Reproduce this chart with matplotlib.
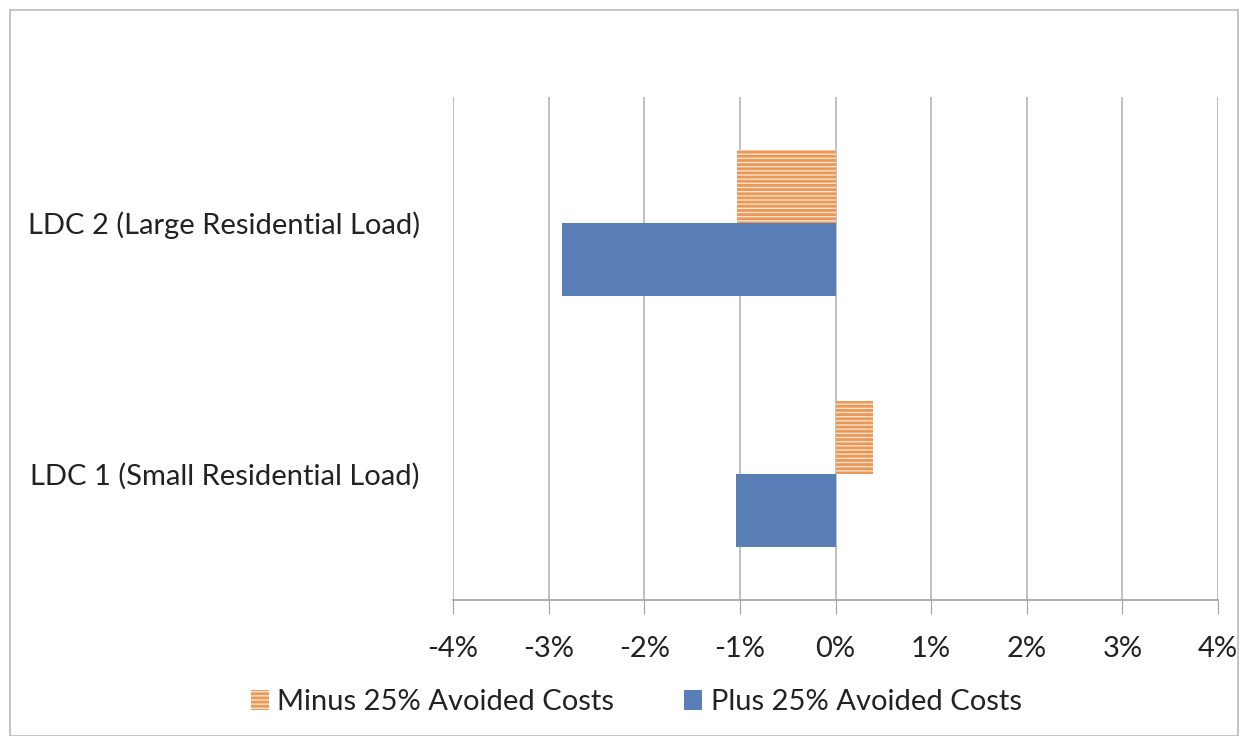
import matplotlib
matplotlib.use("Agg")
import matplotlib.pyplot as plt
from matplotlib.patches import Rectangle
import numpy as np

categories = ["LDC 1 (Small Residential Load)", "LDC 2 (Large Residential Load)"]
minus_25 = [0.39, -1.03]
plus_25 = [-1.04, -2.86]
xticks = [-4, -3, -2, -1, 0, 1, 2, 3, 4]
xtick_labels = ["-4%", "-3%", "-2%", "-1%", "0%", "1%", "2%", "3%", "4%"]
series_names = ["Minus 25% Avoided Costs", "Plus 25% Avoided Costs"]

plt.rcParams['font.family'] = ['Lato', 'DejaVu Sans']
plt.rcParams['hatch.linewidth'] = 2.0

fig = plt.figure(figsize=(12.43, 7.36), dpi=100)
ax = fig.add_axes([453/1243, 1 - 600/736, (1218-453)/1243, (600-97)/736])

y = np.arange(len(categories))
h = 0.29
orange = '#eb9757'
blue = '#5a7fb6'
ax.barh(y + h/2, minus_25, height=h, color='#fbe3cc', edgecolor=orange,
        hatch='----', linewidth=0, label=series_names[0])
ax.barh(y - h/2, plus_25, height=h, color=blue, linewidth=0, label=series_names[1])

fs = 21
ax.set_xlim(-4, 4)
ax.set_ylim(-0.5, 1.5)
ax.set_xticks(xticks)
ax.set_xticklabels(xtick_labels, fontsize=fs, color='#222222')
ax.set_yticks(y)
ax.set_yticklabels(categories, fontsize=fs, color='#222222')
ax.tick_params(axis='y', length=0, pad=24)
ax.tick_params(axis='x', length=10, color='#a0a0a0', pad=16, direction='out')
ax.grid(axis='x', color='#b5b5b5', linewidth=1.2)
ax.set_axisbelow(True)
for s in ['top', 'right', 'left']:
    ax.spines[s].set_visible(False)
ax.spines['bottom'].set_color('#a0a0a0')
ax.spines['bottom'].set_linewidth(1.2)

leg = fig.legend(loc='center', bbox_to_anchor=(0.512, 1 - 702/736), ncol=2, frameon=False,
                 fontsize=fs, handlelength=0.6, handleheight=0.7, columnspacing=2.4,
                 handletextpad=0.3)
for t in leg.get_texts():
    t.set_color('#222222')

fig.patches.append(Rectangle((10/1243, 0), (1238-10)/1243, 1 - 10/736, transform=fig.transFigure,
                             fill=False, edgecolor='#bbbbbb', linewidth=1.2))

fig.savefig("out.png", dpi=100)
